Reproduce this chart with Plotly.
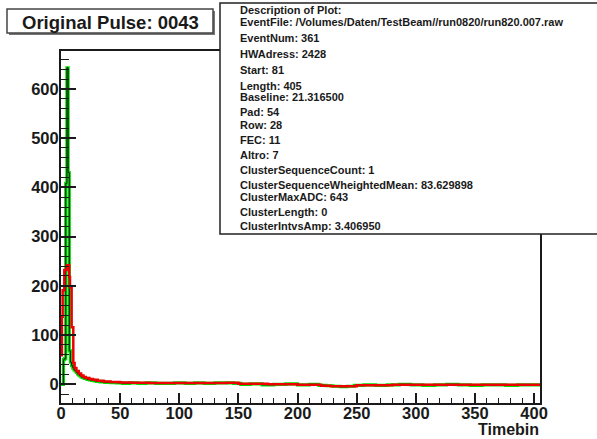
import plotly.graph_objects as go

# ---------------- data ----------------
# raw ADC histogram (bin left edges in timebins, values in ADC counts)
raw_bins = [0, 1, 2, 3, 4, 5, 6, 7, 8, 9, 10, 11, 12, 13, 14, 15, 16, 17, 18, 19,
            20, 22, 24, 26, 28, 30, 33, 37, 42, 47, 52, 58, 65, 72, 80, 88, 96,
            105, 113, 121, 130, 138, 146, 152, 160, 170, 180, 190, 200, 210, 218,
            224, 230, 236, 242, 248, 256, 266, 276, 286, 296, 306, 316, 326, 336,
            346, 356, 366, 376, 386, 396, 405]
raw_adc = [0, 0, 50, 52, 408, 643, 430, 68, 45, 38, 33, 29, 27, 24, 21, 19, 17, 15, 14, 13,
           12, 10, 9, 8, 7, 6, 5, 4, 3.5, 3, 2, 3, 2, 3, 2, 2, 3,
           2, 3, 2, 3, 3, 2, 0, 1, -1, 0, 1, -1, 0, -2,
           -3, -4, -5, -4, -2, -1, -2, -1, 0, -1, -2, -1, 0, -1,
           -2, -1, -1, -2, -1, -1, -1]

# smoothed pulse (red)
smooth_bins = [0, 0.8, 1.4, 2.8, 4.8, 7.0, 7.6, 9.0, 10.4, 11.5, 13, 15, 17, 19, 21,
               24, 27, 31, 36, 42, 50, 60, 75, 95, 120, 140, 150, 175, 200,
               220, 228, 238, 250, 280, 320, 360, 400, 405]
smooth_adc = [59, 137, 191, 232, 242, 218, 197, 116, 43, 33, 27, 22, 18, 15, 13,
              11, 9, 7, 5.5, 4.5, 3.5, 3, 2.5, 2.5, 2.5, 3, 1, 0, -1,
              -3, -4, -4, -2, -1, -1, -1, -1, -1]

title_text = "Original Pulse: 0043"
x_title = "Timebin"
desc_lines = [
    "Description of Plot:",
    "EventFile: /Volumes/Daten/TestBeam//run0820/run820.007.raw",
    "EventNum: 361",
    "HWAdress: 2428",
    "Start: 81",
    "Length: 405",
    "Baseline: 21.316500",
    "Pad: 54",
    "Row: 28",
    "FEC: 11",
    "Altro: 7",
    "ClusterSequenceCount: 1",
    "ClusterSequenceWheightedMean: 83.629898",
    "ClusterMaxADC: 643",
    "ClusterLength: 0",
    "ClusterIntvsAmp: 3.406950",
]
desc_y_px = [10, 22, 38, 54, 70, 86, 97, 112, 125, 140, 155, 170, 185, 197, 212, 226]

# ---------------- layout geometry ----------------
W, H = 597, 439
L, R, T, B = 61, 540, 51, 403
FONT = "Liberation Sans"


def px(x):
    return (x - L) / (R - L)


def py(y):
    return (B - y) / (B - T)


fig = go.Figure()

# green thick histogram
fig.add_trace(go.Scatter(x=raw_bins, y=raw_adc, mode="lines",
                         line=dict(color="#00dd00", width=3.2, shape="hv"),
                         hoverinfo="skip", showlegend=False))
# black thin histogram
fig.add_trace(go.Scatter(x=raw_bins, y=raw_adc, mode="lines",
                         line=dict(color="#111111", width=1, shape="hv"),
                         hoverinfo="skip", showlegend=False))
# red smoothed
fig.add_trace(go.Scatter(x=smooth_bins, y=smooth_adc, mode="lines",
                         line=dict(color="#ee0000", width=2.5, shape="hv"),
                         hoverinfo="skip", showlegend=False))

shapes = []
# title box shadow + box
shapes.append(dict(type="rect", xref="paper", yref="paper",
                   x0=px(9), x1=px(215), y0=py(35), y1=py(11),
                   line=dict(width=0), fillcolor="#777777", layer="above"))
shapes.append(dict(type="rect", xref="paper", yref="paper",
                   x0=px(7), x1=px(213), y0=py(33), y1=py(9),
                   line=dict(color="#444444", width=1.5), fillcolor="white", layer="above"))
# description box
shapes.append(dict(type="rect", xref="paper", yref="paper",
                   x0=px(220), x1=px(600), y0=py(234), y1=py(3),
                   line=dict(color="#222222", width=1.5), fillcolor="white", layer="above"))

annotations = []
annotations.append(dict(text="<b>" + title_text + "</b>", xref="paper", yref="paper",
                        x=px(110), y=py(22), xanchor="center", yanchor="middle",
                        showarrow=False, font=dict(family=FONT, size=18.5, color="#1a1a1a")))
for t, yy in zip(desc_lines, desc_y_px):
    annotations.append(dict(text="<b>" + t + "</b>", xref="paper", yref="paper",
                            x=px(238), y=py(yy), xanchor="left", yanchor="middle",
                            showarrow=False, font=dict(family=FONT, size=11, color="#1a1a1a")))
annotations.append(dict(text="<b>" + x_title + "</b>", xref="paper", yref="paper",
                        x=px(541), y=py(429.5), xanchor="right", yanchor="middle",
                        showarrow=False, font=dict(family=FONT, size=16, color="#1a1a1a")))

fig.update_layout(
    width=W, height=H,
    margin=dict(l=L, r=W - R, t=T, b=H - B, pad=0),
    paper_bgcolor="white", plot_bgcolor="white",
    showlegend=False,
    shapes=shapes, annotations=annotations,
    font=dict(family=FONT, color="#1a1a1a"),
    xaxis=dict(range=[0, 405], showgrid=False, zeroline=False,
               showline=True, linecolor="#1a1a1a", linewidth=2, mirror=True,
               ticks="inside", ticklen=10, tickwidth=1.5, tickcolor="#1a1a1a",
               tick0=0, dtick=50,
               minor=dict(ticks="inside", ticklen=5, tickwidth=1.2,
                          tickcolor="#1a1a1a", dtick=10, showgrid=False),
               tickfont=dict(family=FONT, size=16.5, color="#1a1a1a", weight="bold"),
               ticklabelstandoff=-6),
    yaxis=dict(range=[-38, 677], showgrid=False, zeroline=False,
               showline=True, linecolor="#1a1a1a", linewidth=2, mirror=True,
               ticks="inside", ticklen=15, tickwidth=1.5, tickcolor="#1a1a1a",
               tickvals=[0, 100, 200, 300, 400, 500, 600],
               minor=dict(ticks="inside", ticklen=8, tickwidth=1.2,
                          tickcolor="#1a1a1a", tick0=0, dtick=20, showgrid=False),
               tickfont=dict(family=FONT, size=16.5, color="#1a1a1a", weight="bold"),
               ticklabelstandoff=-3),
)

fig.write_html("out.html", config={"displayModeBar": False},
               post_script="document.body.style.margin='0';document.body.style.overflow='hidden';")
